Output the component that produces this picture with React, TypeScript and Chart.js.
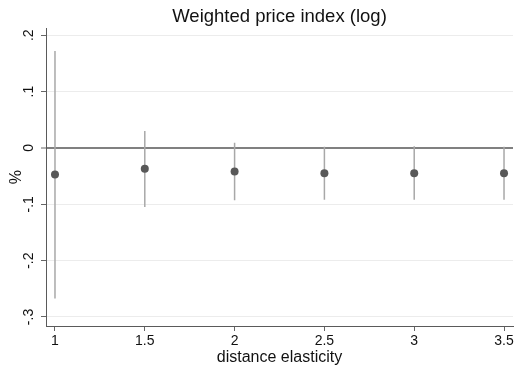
import React, { useEffect, useRef } from "react";
import { Chart, registerables } from "chart.js";

Chart.register(...registerables);

const elasticities = [1, 1.5, 2, 2.5, 3, 3.5];
const estimates = [-0.047, -0.037, -0.042, -0.045, -0.045, -0.045];
const ciLower = [-0.267, -0.105, -0.093, -0.092, -0.092, -0.092];
const ciUpper = [0.172, 0.03, 0.009, 0.002, 0.003, 0.002];
const xTickValues = [1, 1.5, 2, 2.5, 3, 3.5];
const xTickLabels = ["1", "1.5", "2", "2.5", "3", "3.5"];
const yTickValues = [-0.3, -0.2, -0.1, 0, 0.1, 0.2];
const yTickLabels = ["-.3", "-.2", "-.1", "0", ".1", ".2"];

const FONT = "'Liberation Sans', Arial, sans-serif";

const rotatedYLabels = {
  id: "rotatedYLabels",
  afterDraw(chart: any) {
    const y = chart.scales.y;
    const ctx = chart.ctx;
    ctx.save();
    ctx.fillStyle = "#111";
    ctx.font = `14px ${FONT}`;
    ctx.textAlign = "center";
    ctx.textBaseline = "middle";
    yTickValues.forEach((v, i) => {
      const py = y.getPixelForValue(v);
      ctx.save();
      ctx.translate(29, py);
      ctx.rotate(-Math.PI / 2);
      ctx.fillText(yTickLabels[i], 0, 0);
      ctx.restore();
    });
    ctx.restore();
  },
};

export default function App() {
  const ref = useRef<HTMLCanvasElement | null>(null);
  useEffect(() => {
    if (!ref.current) return;
    const ciSets = elasticities.map((x, i) => ({
      label: "CI " + x,
      data: [
        { x, y: ciLower[i] },
        { x, y: ciUpper[i] },
      ],
      showLine: true,
      borderColor: "#a8a8a8",
      borderWidth: 1.5,
      pointRadius: 0,
    }));
    const chart = new Chart(ref.current, {
      type: "scatter",
      data: {
        datasets: [
          {
            label: "Estimate",
            data: elasticities.map((x, i) => ({ x, y: estimates[i] })),
            pointRadius: 4,
            pointBackgroundColor: "#585858",
            pointBorderColor: "#585858",
            pointBorderWidth: 0,
            showLine: false,
          },
          ...ciSets,
        ],
      },
      options: {
        animation: false,
        responsive: false,
        events: [],
        layout: { padding: { left: 0, right: 2, top: 0, bottom: 0 } },
        plugins: {
          legend: { display: false },
          tooltip: { enabled: false },
          title: {
            display: true,
            fullSize: false,
            text: "Weighted price index (log)",
            color: "#111",
            font: { family: FONT, size: 18.5, weight: "normal" },
            padding: { top: 6, bottom: 0 },
          },
        },
        scales: {
          x: {
            type: "linear",
            min: 0.95,
            max: 3.55,
            afterBuildTicks: (s: any) => {
              s.ticks = xTickValues.map((v) => ({ value: v }));
            },
            afterFit: (s: any) => {
              s.height = 41;
            },
            ticks: {
              color: "#111",
              font: { family: FONT, size: 14 },
              padding: 2,
              maxRotation: 0,
              callback: (v: any) => {
                const i = xTickValues.indexOf(Number(v));
                return i >= 0 ? xTickLabels[i] : "";
              },
            },
            grid: {
              drawOnChartArea: false,
              drawTicks: true,
              tickLength: 5,
              tickColor: "#666",
            },
            border: { display: true, color: "#5a5a5a", width: 1 },
            title: {
              display: true,
              text: "distance elasticity",
              color: "#111",
              font: { family: FONT, size: 16 },
              padding: { top: 0, bottom: 0 },
            },
          },
          y: {
            type: "linear",
            min: -0.316,
            max: 0.2124,
            afterBuildTicks: (s: any) => {
              s.ticks = yTickValues.map((v) => ({ value: v }));
            },
            afterFit: (s: any) => {
              s.width = 46;
            },
            ticks: {
              color: "rgba(0,0,0,0)",
              font: { family: FONT, size: 14 },
              callback: (v: any) => {
                const i = yTickValues.findIndex((t) => Math.abs(t - Number(v)) < 1e-9);
                return i >= 0 ? yTickLabels[i] : "";
              },
            },
            grid: {
              color: (c: any) =>
                c.tick && Math.abs(c.tick.value) < 1e-9 ? "#808080" : "#ececec",
              lineWidth: (c: any) =>
                c.tick && Math.abs(c.tick.value) < 1e-9 ? 2 : 1,
              tickLength: 5,
              tickColor: "#666",
              tickWidth: 1,
            },
            border: { display: true, color: "#5a5a5a", width: 1 },
            title: {
              display: true,
              text: "%",
              color: "#111",
              font: { family: FONT, size: 16 },
              padding: { top: 7, bottom: 0 },
            },
          },
        },
      },
      plugins: [rotatedYLabels],
    } as any);
    return () => chart.destroy();
  }, []);
  return (
    <div style={{ position: "fixed", left: 0, top: 0, width: 517, height: 367, background: "#fff" }}>
      <canvas ref={ref} width={517} height={367} />
    </div>
  );
}
